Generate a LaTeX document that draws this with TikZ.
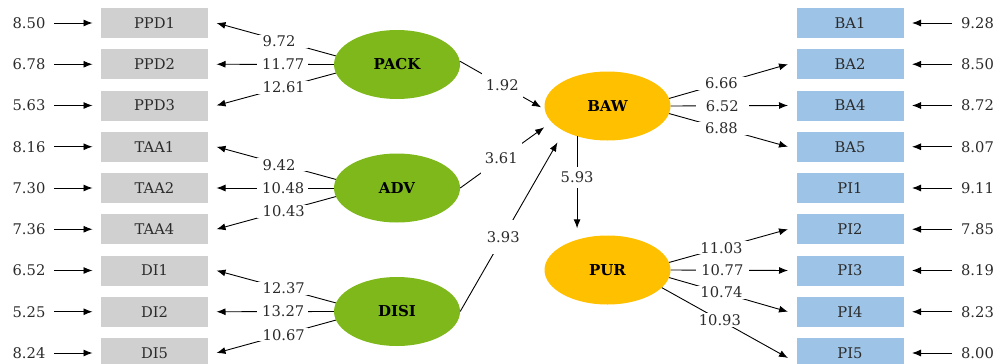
\documentclass[tikz,border=0pt]{standalone}
\usepackage{fontspec}
\setmainfont{DejaVu Serif}
\usetikzlibrary{arrows.meta,shapes.geometric}
\definecolor{boxgray}{HTML}{D0D0D0}
\definecolor{boxblue}{HTML}{9DC3E6}
\definecolor{lvgreen}{HTML}{7EB81A}
\definecolor{lvorange}{HTML}{FFC000}
\definecolor{txt}{HTML}{2B2B2B}
\begin{document}
\begin{tikzpicture}[x=1pt,y=-1pt,
  font=\fontsize{14.7}{17}\selectfont, text=txt,
  ind/.style={minimum width=107pt, minimum height=30pt, inner sep=0pt, outer xsep=8.5pt, outer ysep=0pt},
  indg/.style={ind, fill=boxgray},
  indb/.style={ind, fill=boxblue},
  err/.style={inner sep=0pt, outer xsep=9pt},
  lat/.style={ellipse, minimum width=126pt, minimum height=69pt, inner sep=0pt,
    font=\fontsize{15}{18}\selectfont\bfseries, text=black},
  latg/.style={lat, fill=lvgreen},
  lato/.style={lat, fill=lvorange},
  arr/.style={-{Latex[length=9pt,width=7pt]}, line width=0.9pt},
  lblL/.style={fill=white, text width=40pt, align=left, inner xsep=5.5pt, inner ysep=1pt},
  lblR/.style={fill=white, minimum width=53pt, inner xsep=0pt, inner ysep=1pt},
  lblM/.style={fill=white, minimum width=41pt, minimum height=34pt, inner sep=0pt},
  lblV/.style={fill=white, minimum height=21pt, inner xsep=1pt, inner ysep=0pt},
]
\useasboundingbox (0,0) rectangle (996,364);

% left indicators
\foreach \n/\v [count=\i from 0] in {PPD1/8.50,PPD2/6.78,PPD3/5.63,TAA1/8.16,TAA2/7.30,TAA4/7.36,DI1/6.52,DI2/5.25,DI5/8.24}{
  \node[indg] (\n) at (154.5,{23+41.25*\i}) {\n};
  \node[err] (e\n) at (29,{23+41.25*\i}) {\v};
  \draw[arr] (e\n) -- (\n);
}
% right indicators
\foreach \n/\v [count=\i from 0] in {BA1/9.28,BA2/8.50,BA4/8.72,BA5/8.07,PI1/9.11,PI2/7.85,PI3/8.19,PI4/8.23,PI5/8.00}{
  \node[indb] (\n) at (850,{23+41.25*\i}) {\n};
  \node[err] (e\n) at (977.5,{23+41.25*\i}) {\v};
  \draw[arr] (e\n) -- (\n);
}

% latent variables
\node[latg] (PACK) at (397,64.5) {PACK};
\node[latg] (ADV) at (397,188) {ADV};
\node[latg] (DISI) at (397,311.5) {DISI};
\node[lato] (BAW) at (607.5,106) {BAW};
\node[lato] (PUR) at (607.5,270) {PUR};

% loadings left
\draw[arr] (PACK.172) -- node[lblL,pos=.445]{9.72} (PPD1.east);
\draw[arr] (PACK.180) -- node[lblL,pos=.44]{11.77} (PPD2.east);
\draw[arr] (PACK.188) -- node[lblL,pos=.445]{12.61} (PPD3.east);
\draw[arr] (ADV.172) -- node[lblL,pos=.445]{9.42} (TAA1.east);
\draw[arr] (ADV.180) -- node[lblL,pos=.44]{10.48} (TAA2.east);
\draw[arr] (ADV.188) -- node[lblL,pos=.445]{10.43} (TAA4.east);
\draw[arr] (DISI.172) -- node[lblL,pos=.445]{12.37} (DI1.east);
\draw[arr] (DISI.180) -- node[lblL,pos=.44]{13.27} (DI2.east);
\draw[arr] (DISI.188) -- node[lblL,pos=.445]{10.67} (DI5.east);

% structural paths
\draw[arr, shorten >=4pt] (PACK.3) -- node[lblM,pos=.5]{1.92} (BAW.183);
\draw[arr, shorten >=9pt] (ADV.east) -- node[lblM,pos=.45]{3.61} (BAW.196);
\draw[arr, shorten >=13pt] (DISI.east) -- node[lblM,pos=.415]{3.93} (BAW.210);
\draw[arr, shorten >=7pt] (BAW.225) -- node[lblV,pos=.415]{5.93} (BAW.225 |- PUR.north);

% loadings right
\draw[arr] (BAW.7) -- node[lblR,pos=.44]{6.66} (BA2.west);
\draw[arr] (BAW.0) -- node[lblR,pos=.44]{6.52} (BA4.west);
\draw[arr] (BAW.353) -- node[lblR,pos=.44]{6.88} (BA5.west);
\draw[arr] (PUR.7) -- node[lblR,pos=.44]{11.03} (PI2.west);
\draw[arr] (PUR.0) -- node[lblR,pos=.44]{10.77} (PI3.west);
\draw[arr] (PUR.353) -- node[lblR,pos=.44]{10.74} (PI4.west);
\draw[arr] (PUR.342) -- node[lblR,pos=.46]{10.93} ([yshift=-5pt]PI5.west);
\end{tikzpicture}
\end{document}
